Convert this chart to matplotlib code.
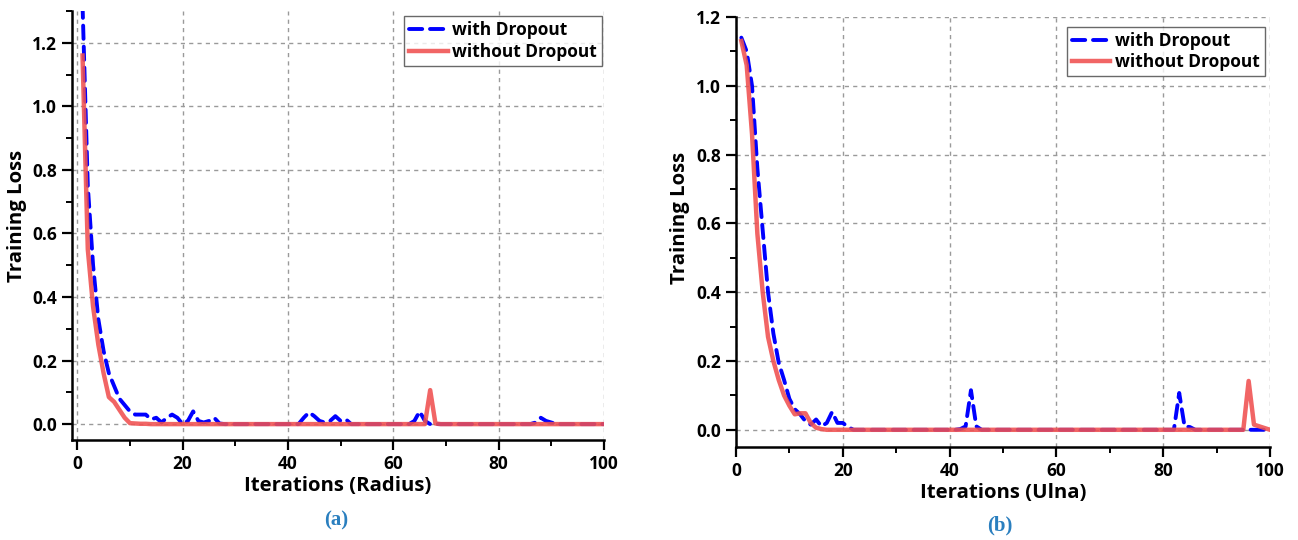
import matplotlib
matplotlib.use("Agg")
import matplotlib.pyplot as plt
from matplotlib.ticker import MultipleLocator, FormatStrFormatter

plt.rcParams['font.family'] = ['Open Sans', 'DejaVu Sans']
plt.rcParams['font.weight'] = 'bold'

iterations = list(range(1, 101))

# ---- (a) Radius ----
radius_with = [1.32, 0.75, 0.50, 0.33, 0.23, 0.16, 0.12, 0.08, 0.06, 0.04,
               0.03, 0.03, 0.03, 0.015, 0.02, 0.005, 0.02, 0.03, 0.02, 0.0,
               0.01, 0.04, 0.01, 0.005, 0.01, 0.02, 0.002, 0.0, 0.0, 0.0,
               0.0, 0.0, 0.0, 0.0, 0.0, 0.0, 0.0, 0.0, 0.0, 0.0,
               0.0, 0.0, 0.02, 0.037, 0.025, 0.01, 0.005, 0.01, 0.025, 0.01,
               0.015, 0.0, 0.0, 0.0, 0.0, 0.0, 0.0, 0.0, 0.0, 0.0,
               0.0, 0.0, 0.0, 0.01, 0.04, 0.01, 0.0, 0.0, 0.0, 0.0,
               0.0, 0.0, 0.0, 0.0, 0.0, 0.0, 0.0, 0.0, 0.0, 0.0,
               0.0, 0.0, 0.0, 0.0, 0.0, 0.0, 0.005, 0.02, 0.01, 0.005,
               0.0, 0.0, 0.0, 0.0, 0.0, 0.0, 0.0, 0.0, 0.0, 0.0]
radius_without = [1.16, 0.55, 0.37, 0.25, 0.16, 0.085, 0.07, 0.045, 0.02, 0.003,
                  0.002, 0.001, 0.001, 0.0, 0.0, 0.0, 0.0, 0.0, 0.0, 0.0,
                  0.0, 0.0, 0.0, 0.0, 0.0, 0.0, 0.0, 0.0, 0.0, 0.0,
                  0.0, 0.0, 0.0, 0.0, 0.0, 0.0, 0.0, 0.0, 0.0, 0.0,
                  0.0, 0.0, 0.0, 0.0, 0.0, 0.0, 0.0, 0.0, 0.0, 0.0,
                  0.0, 0.0, 0.0, 0.0, 0.0, 0.0, 0.0, 0.0, 0.0, 0.0,
                  0.0, 0.0, 0.0, 0.0, 0.0, 0.0, 0.107, 0.002, 0.0, 0.0,
                  0.0, 0.0, 0.0, 0.0, 0.0, 0.0, 0.0, 0.0, 0.0, 0.0,
                  0.0, 0.0, 0.0, 0.0, 0.0, 0.0, 0.0, 0.0, 0.0, 0.0,
                  0.0, 0.0, 0.0, 0.0, 0.0, 0.0, 0.0, 0.0, 0.0, 0.0]

# ---- (b) Ulna ----
ulna_with = [1.14, 1.10, 1.0, 0.76, 0.58, 0.40, 0.28, 0.195, 0.145, 0.09,
             0.06, 0.045, 0.025, 0.015, 0.03, 0.01, 0.02, 0.052, 0.02, 0.02,
             0.008, 0.0, 0.0, 0.0, 0.0, 0.0, 0.0, 0.0, 0.0, 0.0,
             0.0, 0.0, 0.0, 0.0, 0.0, 0.0, 0.0, 0.0, 0.0, 0.0,
             0.0, 0.002, 0.01, 0.115, 0.01, 0.0, 0.0, 0.0, 0.0, 0.0,
             0.0, 0.0, 0.0, 0.0, 0.0, 0.0, 0.0, 0.0, 0.0, 0.0,
             0.0, 0.0, 0.0, 0.0, 0.0, 0.0, 0.0, 0.0, 0.0, 0.0,
             0.0, 0.0, 0.0, 0.0, 0.0, 0.0, 0.0, 0.0, 0.0, 0.0,
             0.0, 0.0, 0.107, 0.01, 0.008, 0.0, 0.0, 0.0, 0.0, 0.0,
             0.0, 0.0, 0.0, 0.0, 0.0, 0.0, 0.0, 0.0, 0.0, 0.0]
ulna_without = [1.13, 1.06, 0.86, 0.57, 0.40, 0.27, 0.20, 0.145, 0.10, 0.07,
                0.045, 0.048, 0.048, 0.02, 0.006, 0.002, 0.0, 0.0, 0.0, 0.0,
                0.0, 0.0, 0.0, 0.0, 0.0, 0.0, 0.0, 0.0, 0.0, 0.0,
                0.0, 0.0, 0.0, 0.0, 0.0, 0.0, 0.0, 0.0, 0.0, 0.0,
                0.0, 0.0, 0.0, 0.0, 0.0, 0.0, 0.0, 0.0, 0.0, 0.0,
                0.0, 0.0, 0.0, 0.0, 0.0, 0.0, 0.0, 0.0, 0.0, 0.0,
                0.0, 0.0, 0.0, 0.0, 0.0, 0.0, 0.0, 0.0, 0.0, 0.0,
                0.0, 0.0, 0.0, 0.0, 0.0, 0.0, 0.0, 0.0, 0.0, 0.0,
                0.0, 0.0, 0.0, 0.0, 0.0, 0.0, 0.0, 0.0, 0.0, 0.0,
                0.0, 0.0, 0.0, 0.0, 0.0, 0.142, 0.015, 0.01, 0.005, 0.0]

series_labels = ["with Dropout", "without Dropout"]
xlabels = ["Iterations (Radius)", "Iterations (Ulna)"]
ylabel = "Training Loss"
panel_tags = ["(a)", "(b)"]

fig = plt.figure(figsize=(12.98, 5.40), dpi=100)

W, H = 1298, 540
def rect(x0, y0, x1, y1):
    return [x0 / W, 1 - y1 / H, (x1 - x0) / W, (y1 - y0) / H]

ax1 = fig.add_axes(rect(72, 11, 604, 440))
ax2 = fig.add_axes(rect(736, 17, 1270, 447))

def style(ax, ylim, xlim):
    ax.set_xlim(*xlim)
    ax.set_ylim(*ylim)
    for s in ['top', 'right']:
        ax.spines[s].set_visible(False)
    for s in ['left', 'bottom']:
        ax.spines[s].set_linewidth(1.8)
    ax.xaxis.set_major_locator(MultipleLocator(20))
    ax.xaxis.set_minor_locator(MultipleLocator(10))
    ax.yaxis.set_major_locator(MultipleLocator(0.2))
    ax.yaxis.set_minor_locator(MultipleLocator(0.1))
    ax.yaxis.set_major_formatter(FormatStrFormatter('%.1f'))
    ax.tick_params(which='major', direction='out', length=7, width=1.6,
                   labelsize=12.5, pad=4)
    ax.tick_params(which='minor', direction='out', length=4, width=1.4)
    ax.grid(True, which='major', color='#9a9a9a', linestyle=(0, (3, 3)),
            linewidth=1.0)
    ax.set_axisbelow(True)
    for lab in ax.get_xticklabels() + ax.get_yticklabels():
        lab.set_fontweight('bold')

configs = [
    (ax1, radius_with, radius_without, xlabels[0], (-0.05, 1.3), (-1, 100),
     panel_tags[0], (336, 520), (1.006, 1.0), (-0.085, 0.522)),
    (ax2, ulna_with, ulna_without, xlabels[1], (-0.05, 1.2), (0, 100),
     panel_tags[1], (1000, 525), (1.0, 0.99), (-0.086, 0.533)),
]

for ax, yw, yo, xl, ylim, xlim, tag, tagpos, legpos, ylpos in configs:
    style(ax, ylim, xlim)
    ax.plot(iterations, yw, color='#0000FF', linewidth=2.8,
            linestyle=(0, (3.4, 2.0)), dash_capstyle='round',
            label=series_labels[0], zorder=3)
    ax.plot(iterations, yo, color='#F05050', linewidth=3.2, alpha=0.88,
            label=series_labels[1], zorder=4)
    ax.set_xlabel(xl, fontsize=14.7, fontweight='bold', labelpad=2)
    ax.set_ylabel(ylabel, fontsize=14.7, fontweight='bold')
    ax.yaxis.set_label_coords(*ylpos)
    leg = ax.legend(loc='upper right', bbox_to_anchor=legpos, fontsize=12.5,
                    frameon=True, fancybox=False, handlelength=2.2,
                    borderpad=0.3, labelspacing=0.2, handletextpad=0.25,
                    borderaxespad=0.3)
    leg.get_frame().set_edgecolor('#444444')
    leg.get_frame().set_linewidth(1.0)
    for t in leg.get_texts():
        t.set_fontweight('bold')
    fig.text(tagpos[0] / W, 1 - tagpos[1] / H, tag, ha='center', va='center',
             fontsize=15, fontweight='bold', color='#2A7FBF',
             family=['Liberation Serif', 'DejaVu Serif'])

fig.savefig('out.png', dpi=100)
